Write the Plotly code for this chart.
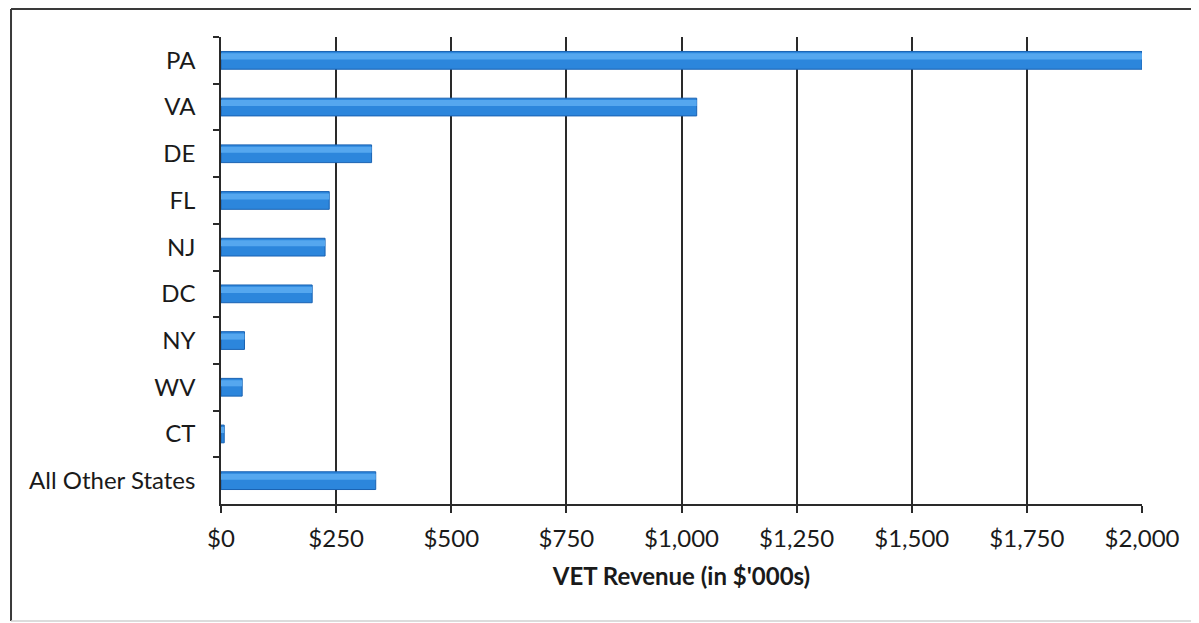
import plotly.graph_objects as go

# VET revenue by state (in $'000s)
states = ["PA", "VA", "DE", "FL", "NJ", "DC", "NY", "WV", "CT", "All Other States"]
revenue = [2000, 1033, 327, 235, 226, 198, 51, 46, 7, 336]
x_ticks = [0, 250, 500, 750, 1000, 1250, 1500, 1750, 2000]
x_labels = ["$0", "$250", "$500", "$750", "$1,000", "$1,250", "$1,500", "$1,750", "$2,000"]

FONT = "Lato"
TXT = "#1a1a1a"

fig = go.Figure()

# main bar
fig.add_trace(go.Bar(
    y=states, x=revenue, orientation="h", width=0.38,
    marker=dict(color="#2c86dc", line=dict(color="#1a62b2", width=1)),
    hoverinfo="x+y",
))
# lighter band on the upper half to mimic the rounded Excel bar
fig.add_trace(go.Bar(
    y=states, x=revenue, orientation="h", width=0.13, offset=-0.15,
    marker=dict(color="#55a7ef", line=dict(width=0)),
    hoverinfo="skip",
))

# outer chart frame: left, top and a faint bottom edge (right edge is cut off in the scan)
frame = dict(type="line", xref="paper", yref="paper", layer="below")
fig.update_layout(
    # page has an 8px body margin, so the figure is 8px smaller than the window
    width=1191, height=615,
    margin=dict(l=213, r=57, t=29, b=119),
    paper_bgcolor="white", plot_bgcolor="white",
    barmode="overlay", showlegend=False,
    font=dict(family=FONT, color=TXT, size=24),
    xaxis=dict(
        range=[0, 2000], tickvals=x_ticks, ticktext=x_labels,
        showgrid=True, gridcolor="#2a2a2a", gridwidth=1.5,
        showline=True, linecolor="#2a2a2a", linewidth=1.5,
        ticks="outside", ticklen=7, tickcolor="#2a2a2a", tickwidth=1.5,
        ticklabelstandoff=5,
        tickfont=dict(size=24, color=TXT, family=FONT),
        zeroline=False,
        title=dict(text="<b>VET Revenue (in $'000s)</b>", font=dict(size=24, color=TXT, family=FONT), standoff=18),
    ),
    yaxis=dict(
        categoryorder="array", categoryarray=states, autorange="reversed",
        showgrid=False, showline=True, linecolor="#2a2a2a", linewidth=1.5,
        ticks="outside", tickson="boundaries", ticklen=6, tickcolor="#2a2a2a", tickwidth=1.5,
        ticklabelstandoff=19,
        tickfont=dict(size=24, color=TXT, family=FONT),
    ),
    shapes=[
        dict(frame, x0=-0.228, x1=-0.228, y0=-0.2505, y1=1.06, line=dict(color="#3a3a3a", width=2)),
        dict(frame, x0=-0.228, x1=1.3, y0=1.06, y1=1.06, line=dict(color="#3a3a3a", width=2)),
        dict(frame, x0=-0.228, x1=1.3, y0=-0.2505, y1=-0.2505, line=dict(color="#d0d0d0", width=1.5)),
    ],
)

fig.write_html("out.html")
